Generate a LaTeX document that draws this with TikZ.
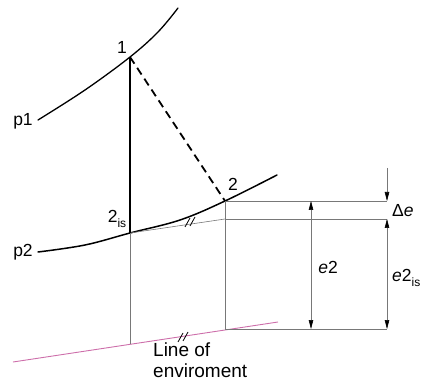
\documentclass[tikz,border=0pt]{standalone}
\usepackage{fontspec}
\setmainfont{Liberation Sans}
\usetikzlibrary{arrows.meta}
\definecolor{envpink}{RGB}{205,110,170}
\definecolor{thingray}{RGB}{120,120,120}
\tikzset{
  curveline/.style={line width=1.5pt, line cap=round},
  thin gray/.style={draw=thingray, line width=0.6pt},
  dimarrow/.style={draw=thingray, line width=0.6pt, {Triangle[length=9pt,width=4.5pt,black]}-{Triangle[length=9pt,width=4.5pt,black]}},
  lbl/.style={inner sep=1pt, font=\fontsize{17.5}{20}\selectfont},
  hatch/.style={line width=0.8pt}
}
\newcommand{\subis}{\raisebox{-0.45ex}{\fontsize{12}{13}\selectfont is}}
\begin{document}
\begin{tikzpicture}[x=1pt,y=-1pt]
\useasboundingbox (0,0) rectangle (423,390);
% points
\coordinate (P1) at (130,57);
\coordinate (P2is) at (130,233);
\coordinate (P2) at (225,201);
\coordinate (Q) at (225,219);
\coordinate (envL) at (13,362);
\coordinate (envR) at (278,322);
\coordinate (envA) at (130,344);
\coordinate (B) at (225,329);
\coordinate (R1) at (387,201);
\coordinate (R2) at (387,219);
\coordinate (R3) at (387,329);
\coordinate (Rtop) at (387,168);
\coordinate (A1) at (311,201);
\coordinate (A3) at (311,329);
% pressure lines
\draw[curveline, line width=1.3pt] plot[smooth, tension=0.6] coordinates {(38,120) (85,90) (130,57) (158,32) (178,8)};
\draw[curveline] plot[smooth, tension=0.6] coordinates {(38,252) (85,245) (130,233) (180,220) (225,201) (277,175)};
% environment line
\draw[draw=envpink, line width=0.9pt] (envL) -- (envR);
% thin lines
\draw[thin gray] (P2is) -- (Q);
\draw[thin gray] (P2is) -- (envA);
\draw[thin gray] (P2) -- (B);
\draw[thin gray] (P2) -- (R1);
\draw[thin gray] (Q) -- (R2);
\draw[thin gray] (B) -- (R3);
% isentropic and real expansion
\draw[line width=1.5pt] (P1) -- (P2is);
\draw[line width=1.8pt, dash pattern=on 8pt off 5pt] (P1) -- (P2);
% dimension arrows
\draw[dimarrow] (A1) -- (A3);
\draw[dimarrow] (R2) -- (R3);
\draw[thin gray, -{Triangle[length=9pt,width=4.5pt,black]}] (Rtop) -- (R1);
% hatch marks
\draw[hatch] (185,227) -- (190,218);
\draw[hatch] (190,226) -- (195,217);
\draw[hatch] (178,342) -- (183,333);
\draw[hatch] (183,341) -- (188,332);
% labels
\node[lbl] (l1) at (122,47) {1};
\node[lbl] (l2) at (233,184) {2};
\node[lbl] (l2is) at (117,219) {2\subis};
\node[lbl] (lp1) at (23,121) {p1};
\node[lbl] (lp2) at (23,252) {p2};
\node[lbl, anchor=west] (lde) at (391,211) {Δ\textit{e}};
\node[lbl] (le2) at (328,267) {\textit{e}2};
\node[lbl, anchor=west] (le2is) at (391,278) {\textit{e}2\subis};
\node[lbl, align=left, anchor=north west, inner sep=0pt, font=\fontsize{19}{21}\selectfont] (lenv) at (153,343) {Line of\\enviroment};
\end{tikzpicture}
\end{document}
